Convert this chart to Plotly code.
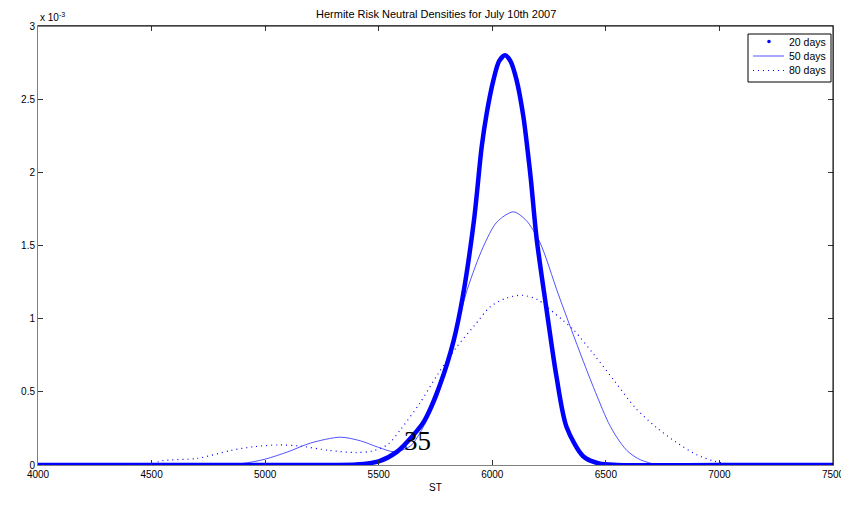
import numpy as np
import plotly.graph_objects as go

# Values (densities in units of 1e-3)
st_20 = [4000, 4500, 5000, 5300, 5400, 5500, 5580, 5650, 5700, 5770, 5830, 5870, 5920, 5953,
         5975, 6005, 6030, 6056, 6080, 6107, 6137, 6154, 6170, 6195, 6240, 6283, 6327, 6400,
         6470, 6550, 7000, 7500]
dens_20 = [0, 0, 0, 0, 0.003, 0.025, 0.09, 0.2, 0.3, 0.55, 0.85, 1.15, 1.68, 2.17,
           2.40, 2.63, 2.76, 2.80, 2.76, 2.63, 2.38, 2.17, 1.95, 1.55, 1.05, 0.6, 0.26, 0.06,
           0.01, 0, 0, 0]

st_50 = [4000, 4800, 4900, 5000, 5100, 5200, 5330, 5420, 5500, 5570, 5640, 5700, 5760, 5830,
         5890, 5960, 6020, 6093, 6150, 6210, 6290, 6365, 6438, 6511, 6550, 6592, 6640, 6694,
         6750, 7500]
dens_50 = [0, 0, 0.01, 0.04, 0.09, 0.15, 0.19, 0.165, 0.12, 0.09, 0.13, 0.27, 0.47, 0.85,
           1.2, 1.49, 1.66, 1.73, 1.67, 1.52, 1.17, 0.855, 0.56, 0.29, 0.185, 0.10, 0.045, 0.013,
           0, 0]

st_80 = [4000, 4450, 4500, 4550, 4700, 4850, 4950, 5060, 5150, 5280, 5400, 5470, 5540, 5600,
         5680, 5760, 5840, 5920, 5990, 6060, 6130, 6200, 6240, 6310, 6360, 6450, 6540, 6630,
         6720, 6810, 6900, 6980, 7060, 7120, 7500]
dens_80 = [0, 0, 0.008, 0.03, 0.045, 0.10, 0.125, 0.137, 0.13, 0.10, 0.085, 0.095, 0.14, 0.25,
           0.42, 0.62, 0.80, 0.95, 1.08, 1.14, 1.16, 1.13, 1.08, 0.99, 0.92, 0.75, 0.57, 0.39,
           0.26, 0.155, 0.07, 0.025, 0.003, 0, 0]

series_names = ["20 days", "50 days", "80 days"]
x_ticks = [4000, 4500, 5000, 5500, 6000, 6500, 7000, 7500]
y_ticks = [0, 0.5, 1, 1.5, 2, 2.5, 3]
y_tick_labels = ["0", "0.5", "1", "1.5", "2", "2.5", "3"]

scale = 1e-3
blue = "#0000ff"
thin_blue = "rgba(40,40,255,0.8)"
dot_dash = "1px,4px"

fig = go.Figure()

fig.add_trace(go.Scatter(
    x=st_80, y=np.array(dens_80) * scale, mode="lines", name=series_names[2],
    line=dict(color=blue, width=1.2, dash=dot_dash, shape="spline", smoothing=0.8)))
fig.add_trace(go.Scatter(
    x=st_50, y=np.array(dens_50) * scale, mode="lines", name=series_names[1],
    line=dict(color=thin_blue, width=1, shape="spline", smoothing=0.8)))
fig.add_trace(go.Scatter(
    x=st_20, y=np.array(dens_20) * scale, mode="lines", name=series_names[0],
    line=dict(color=blue, width=4.5, shape="spline", smoothing=0.8)))

fig.add_annotation(x=5669, y=0.164e-3, text="35", showarrow=False,
                   font=dict(family="Liberation Serif, Times New Roman, serif", size=27, color="black"))

sans = "Liberation Sans, Arial, sans-serif"

# plot area in page pixels (page body has an 8px default margin)
L, T, H, W = 38, 26, 439, 795
BODY = 8
FIG_W, FIG_H = 849 - BODY, 508 - 2 * BODY

def px(xp):
    return (xp - L) / W
def py(yp):
    return (T + H - yp) / H

fig.add_annotation(xref="paper", yref="paper", x=0, y=1, xanchor="left", yanchor="bottom",
                   text="x 10<sup>-3</sup>", showarrow=False, yshift=1,
                   font=dict(family=sans, size=10, color="black"))

# title as annotation
fig.add_annotation(xref="paper", yref="paper", x=0.5, y=py(14.5), xanchor="center", yanchor="middle",
                   text="Hermite Risk Neutral Densities for July 10th 2007", showarrow=False,
                   font=dict(family=sans, size=11, color="black"))

# top/right frame in black
fig.add_shape(type="line", xref="paper", yref="paper", x0=0, x1=1, y0=1, y1=1,
              line=dict(color="black", width=1))
fig.add_shape(type="line", xref="paper", yref="paper", x0=1, x1=1, y0=0, y1=1,
              line=dict(color="black", width=1))

# manual legend (MATLAB-style compact box)
fig.add_shape(type="rect", xref="paper", yref="paper", x0=px(748), x1=px(831), y0=py(82), y1=py(34),
              line=dict(color="black", width=1), fillcolor="white", layer="above")
item_y = [41.5, 56, 70.5]
for name, yy in zip(series_names, item_y):
    fig.add_annotation(xref="paper", yref="paper", x=px(787), y=py(yy), xanchor="left",
                       yanchor="middle", text=name, showarrow=False,
                       font=dict(family=sans, size=10.5, color="black"))
fig.add_shape(type="circle", xref="paper", yref="paper", xsizemode="pixel", ysizemode="pixel",
              xanchor=px(769), yanchor=py(item_y[0]), x0=-1.8, x1=1.8, y0=-1.8, y1=1.8,
              fillcolor=blue, line=dict(color=blue, width=0), layer="above")
fig.add_shape(type="line", xref="paper", yref="paper", x0=px(753), x1=px(784),
              y0=py(item_y[1]), y1=py(item_y[1]), line=dict(color=thin_blue, width=1), layer="above")
fig.add_shape(type="line", xref="paper", yref="paper", x0=px(753), x1=px(784),
              y0=py(item_y[2]), y1=py(item_y[2]), line=dict(color=blue, width=1.2, dash=dot_dash),
              layer="above")

axis_font = dict(family=sans, size=10, color="black")

ml = L - BODY
mt = T - BODY
fig.update_layout(
    width=FIG_W, height=FIG_H,
    margin=dict(l=ml, r=FIG_W - ml - W, t=mt, b=FIG_H - mt - H, autoexpand=False),
    paper_bgcolor="white", plot_bgcolor="white",
    xaxis=dict(range=[4000, 7500], tickvals=x_ticks, ticks="inside", ticklen=5,
               tickcolor="#333", linecolor="#808080", showline=True, mirror="ticks",
               showgrid=False, zeroline=False, tickfont=axis_font, automargin=False,
               title=dict(text="ST", font=axis_font, standoff=4)),
    yaxis=dict(range=[0, 3 * scale], tickvals=np.array(y_ticks) * scale, ticktext=y_tick_labels,
               ticks="inside", ticklen=5, tickcolor="#333", linecolor="#808080",
               showline=True, mirror="ticks", showgrid=False, zeroline=False,
               tickfont=axis_font, automargin=False),
    showlegend=False,
)

fig.write_html("out.html")
